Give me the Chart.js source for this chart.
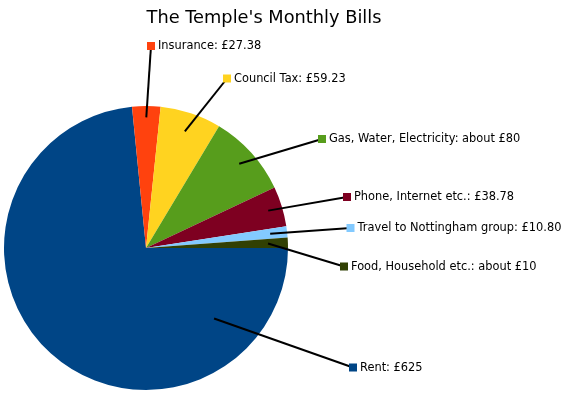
<!DOCTYPE html>
<html>
<head>
<meta charset="utf-8">
<script src="https://cdn.jsdelivr.net/npm/chart.js@4.4.1/dist/chart.umd.min.js"></script>
<style>
  html, body { margin: 0; padding: 0; background: #fff; }
  #wrap { width: 566px; height: 399px; position: relative; }
</style>
</head>
<body>
<div id="wrap"><canvas id="billsChart" width="566" height="399"></canvas></div>
<script>
// Data, in clockwise order starting from 3 o'clock
const categories = ['Rent', 'Insurance', 'Council Tax', 'Gas, Water, Electricity', 'Phone, Internet etc.', 'Travel to Nottingham group', 'Food, Household etc.'];
const amounts = [625, 27.38, 59.23, 80, 38.78, 10.80, 10];
const amountLabels = ['£625', '£27.38', '£59.23', 'about £80', '£38.78', '£10.80', 'about £10'];
const sliceColors = ['#004586', '#ff420e', '#ffd320', '#579d1c', '#7e0021', '#83caff', '#314004'];

// Label layout: legend square centre, and where on the slice the leader starts
const labelBoxes = [
    { x: 353, y: 367.5, along: 0.174, depth: 0.69 },
    { x: 151, y: 46, along: 0.5, depth: 0.92 },
    { x: 227, y: 78.5, along: 0.5, depth: 0.865 },
    { x: 322, y: 139, along: 0.5, depth: 0.885 },
    { x: 347, y: 197, along: 0.5, depth: 0.9 },
    { x: 350.5, y: 228, along: 0.5, depth: 0.88 },
    { x: 344, y: 266.5, along: 0.5, depth: 0.86 }
];

const FONT = '"DejaVu Sans", sans-serif';

const calloutPlugin = {
    id: 'callouts',
    afterDraw(chart) {
        const ctx = chart.ctx;
        const arcs = chart.getDatasetMeta(0).data;
        ctx.save();

        // title
        ctx.fillStyle = '#000';
        ctx.font = '17.8px ' + FONT;
        ctx.textAlign = 'center';
        ctx.textBaseline = 'alphabetic';
        ctx.fillText("The Temple's Monthly Bills", 264, 23);

        arcs.forEach(function(arc, i) {
            const box = labelBoxes[i];
            const p = arc.getProps(['x', 'y', 'startAngle', 'endAngle', 'outerRadius'], true);
            const ang = p.startAngle + (p.endAngle - p.startAngle) * box.along;
            const sx = p.x + Math.cos(ang) * p.outerRadius * box.depth;
            const sy = p.y + Math.sin(ang) * p.outerRadius * box.depth;

            ctx.strokeStyle = '#000';
            ctx.lineWidth = 2;
            ctx.beginPath();
            ctx.moveTo(sx, sy);
            ctx.lineTo(box.x, box.y);
            ctx.stroke();

            ctx.fillStyle = sliceColors[i];
            ctx.fillRect(box.x - 4, box.y - 4, 8, 8);

            ctx.fillStyle = '#000';
            ctx.font = '11.4px ' + FONT;
            ctx.textAlign = 'left';
            ctx.textBaseline = 'middle';
            ctx.fillText(categories[i] + ': ' + amountLabels[i], box.x + 7, box.y + 0.5);
        });
        ctx.restore();
    }
};

new Chart(document.getElementById('billsChart'), {
    type: 'pie',
    data: {
        labels: categories,
        datasets: [{
            data: amounts,
            backgroundColor: sliceColors,
            borderWidth: 0
        }]
    },
    options: {
        responsive: false,
        animation: false,
        rotation: 90,
        layout: {
            padding: { left: 4, right: 278, top: 106, bottom: 9 }
        },
        plugins: {
            legend: { display: false },
            tooltip: { enabled: false },
            title: { display: false }
        }
    },
    plugins: [calloutPlugin]
});
</script>
</body>
</html>
